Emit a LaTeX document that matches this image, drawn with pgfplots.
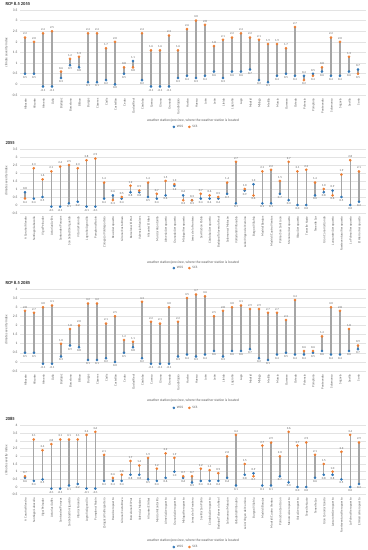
\documentclass[border=0pt]{standalone}
\usepackage{pgfplots}
\pgfplotsset{compat=1.18}
\usepackage{pgfplotstable}
\usepackage{fontspec}
\setmainfont{Carlito}
\definecolor{wblue}{HTML}{2E75B6}
\definecolor{sorange}{HTML}{ED7D31}
\definecolor{stem}{HTML}{A6A6A6}
\definecolor{labgray}{HTML}{595959}

\pgfplotstableread{
x w s
0 0.5 2.2
1 0.5 2.0
2 -0.1 2.4
3 -0.1 2.5
4 0.3 0.6
5 0.9 1.2
6 0.8 1.3
7 0.1 2.4
8 0.1 2.4
9 0.2 1.7
10 0.0 2.0
11 0.5 0.8
12 1.1 0.8
13 0.2 2.4
14 -0.1 1.6
15 -0.1 1.6
16 -0.1 2.3
17 0.3 1.6
18 0.4 2.6
19 0.3 3.0
20 0.4 2.8
21 0.6 1.8
22 0.3 2.1
23 0.6 2.2
24 0.6 2.4
25 0.7 2.2
26 0.2 2.1
27 0.1 1.9
28 0.4 1.9
29 0.5 1.7
30 0.4 2.7
31 0.4 0.2
32 0.5 0.4
33 0.6 0.8
34 0.4 2.2
35 0.4 2.0
36 0.6 1.3
37 0.7 0.5
}\tA

\pgfplotstableread{
x w s
0 0.8 0.4
1 0.4 2.3
2 0.5 1.6
3 -0.1 2.1
4 -0.1 2.4
5 0.1 2.5
6 0.2 2.3
7 -0.1 2.8
8 -0.1 2.9
9 0.4 1.4
10 0.6 0.3
11 0.4 0.5
12 0.8 1.2
13 0.8 0.9
14 0.5 1.4
15 0.4 0.7
16 0.6 1.5
17 1.2 1.3
18 0.6 0.3
19 0.3 0.3
20 0.4 0.7
21 0.4 0.6
22 0.4 0.5
23 0.7 1.4
24 0.1 2.7
25 0.9 1.0
26 1.3 0.6
27 0.1 2.1
28 0.1 2.2
29 0.7 1.5
30 0.3 2.7
31 0.0 2.1
32 0.0 2.2
33 0.6 1.4
34 0.8 1.0
35 0.9 0.6
36 0.5 1.9
37 0.0 2.8
38 0.2 2.1
}\tB

\pgfplotstableread{
x w s
0 0.5 2.8
1 0.5 2.7
2 -0.1 3.0
3 -0.1 3.1
4 0.3 1.0
5 0.9 1.8
6 0.8 2.0
7 0.1 3.2
8 0.1 3.2
9 0.2 2.1
10 0.0 2.5
11 0.5 1.2
12 0.8 1.1
13 0.2 3.3
14 -0.1 2.2
15 -0.1 2.1
16 -0.1 3.0
17 0.3 2.2
18 0.4 3.5
19 0.3 3.7
20 0.4 3.6
21 0.6 2.5
22 0.3 2.8
23 0.6 3.0
24 0.6 3.1
25 0.7 2.9
26 0.2 2.9
27 0.1 2.7
28 0.4 2.7
29 0.5 2.3
30 0.4 3.4
31 0.4 0.6
32 0.5 0.6
33 0.6 1.4
34 0.4 3.0
35 0.4 2.8
36 0.6 1.8
37 0.7 0.9
}\tC

\pgfplotstableread{
x w s
0 0.6 0.7
1 0.4 3.1
2 0.5 2.4
3 -0.1 2.8
4 -0.1 3.1
5 0.1 3.1
6 0.2 3.1
7 -0.1 3.4
8 -0.1 3.6
9 0.4 2.1
10 0.4 0.6
11 0.4 0.8
12 0.8 1.7
13 0.8 1.4
14 0.5 1.9
15 0.4 1.2
16 0.6 2.2
17 1.0 1.9
18 0.6 0.7
19 0.3 0.7
20 0.4 1.2
21 0.4 1.1
22 0.4 0.9
23 0.6 2.0
24 0.1 3.4
25 0.8 1.5
26 0.9 0.7
27 0.1 2.7
28 0.1 2.9
29 0.7 2.0
30 0.3 3.6
31 0.0 2.7
32 0.0 2.9
33 0.6 2.1
34 0.8 1.5
35 0.8 1.0
36 0.5 2.3
37 0.0 3.4
38 0.2 2.9
}\tD

\pgfplotsset{
  /pgf/number format/assume math mode=true,
  csi/.style={
    scale only axis, width=346bp,
    ymin=-0.5, ytick distance=0.5,
    ymajorgrids, grid style={gray!22, line width=0.5bp},
    axis line style={draw=none}, tick style={draw=none},
    yticklabel style={font=\fontsize{3.6}{4}\selectfont, text=labgray, xshift=1bp},
    xticklabel style={rotate=90, anchor=east, font=\fontsize{3.2}{3.6}\selectfont, text=labgray, yshift=-0.5bp},
    ylabel={climate severity index},
    ylabel style={font=\fontsize{3.4}{4}\selectfont, text=labgray, yshift=-3bp},
    legend style={draw=none, fill=none, legend columns=2, font=\fontsize{3.4}{4}\selectfont, text=labgray,
      /tikz/every even column/.append style={column sep=3bp}, inner sep=0pt},
    legend cell align=left,
  },
  stemplot/.style={forget plot, draw=none, mark=none,
    error bars/.cd, y dir=plus, y explicit, error mark=none,
    error bar style={stem, line width=1.3bp}},
  lab/.style={nodes near coords,
    /pgf/number format/.cd, fixed, fixed zerofill, precision=1, /pgfplots/.cd,
    every node near coord/.append style={anchor=center, yshift=\myshift,
      font=\fontsize{3}{3.4}\selectfont, text=labgray, inner sep=0pt}},
}

\newcommand{\drawpanel}[1]{%
  \addplot[stemplot] table[x=x, y expr={min(\thisrow{w},\thisrow{s})}, y error expr={abs(\thisrow{s}-\thisrow{w})}] {#1};
  \addplot[only marks, mark=*, mark size=1.1bp, color=wblue, lab,
    visualization depends on={ifthenelse(\thisrow{w}>\thisrow{s},3.6,-3.6) \as \myshift}]
    table[x=x, y=w] {#1};
  \addlegendentry{WCS}
  \addplot[only marks, mark=*, mark size=1.1bp, color=sorange, lab,
    visualization depends on={ifthenelse(\thisrow{s}>=\thisrow{w},3.6,-3.6) \as \myshift}]
    table[x=x, y=s] {#1};
  \addlegendentry{SCS}
}

\def\namesA{Albacete,Alicante,Almería,Ávila,Badajoz,Barcelona,Bilbao,Burgos,Cáceres,Cádiz,Castellón,Ceuta,Ciudad Real,Córdoba,Cuenca,Girona,Granada,Guadalajara,Huelva,Huesca,Jaén,León,Lleida,Logroño,Lugo,Madrid,Málaga,Melilla,Murcia,Ourense,Oviedo,Palencia,Pamplona,Pontevedra,Salamanca,Segovia,Sevilla,Soria}
\def\namesB{A Coruña/Alvedro,Santiago/Labacolla,Vigo/Peinador,Asturias/Avilés,Santander/Parayas,San Sebastián/Igueldo,Vitoria/Foronda,Logroño/Agoncillo,Pamplona/Noáin,Zaragoza/Valdespartera,Reus/Aeropuerto,Girona/Costa Brava,Barcelona/El Prat,Valencia/Manises,Alicante/El Altet,Murcia/Alcantarilla,Almería/Aeropuerto,Granada/Aeropuerto,Málaga/Aeropuerto,Jerez de la Frontera,Sevilla/San Pablo,Córdoba/Aeropuerto,Badajoz/Talavera la Real,Salamanca/Matacán,Valladolid/Villanubla,León/Virgen del Camino,Burgos/Villafría,Madrid/Barajas,Madrid/Cuatro Vientos,Palma/Son Sant Joan,Menorca/Aeropuerto,Ibiza/Aeropuerto,Tenerife Norte,Tenerife Sur,Gran Canaria/Gando,Lanzarote/Aeropuerto,Fuerteventura/Aeropuerto,La Palma/Aeropuerto,El Hierro/Aeropuerto}

\begin{document}
\begin{tikzpicture}
\useasboundingbox (0,0) rectangle (368bp,550bp);

% Panel 1
\begin{axis}[csi, at={(20bp,455bp)}, anchor=south west, height=85bp, ymax=3.5,
  xmin=-0.556, xmax=37.89, xtick={0,...,37}, xticklabels/.expanded=\namesA,
  legend style={at={(0.48,-0.376)}, anchor=center}]
\drawpanel{\tA}
\end{axis}
\node[anchor=west, font=\fontsize{4.6}{5}\selectfont\bfseries, text=black!85] at (2bp,546bp) {RCP 8.5 2055};
\node[font=\fontsize{3.6}{4}\selectfont, text=labgray] at (193bp,429bp) {weather station/province, where the weather station is located};

% Panel 2
\begin{axis}[csi, at={(20bp,337bp)}, anchor=south west, height=64bp, ymax=3.5,
  xmin=-0.569, xmax=38.8, xtick={0,...,38}, xticklabels/.expanded=\namesB,
  legend style={at={(0.48,-0.86)}, anchor=center}]
\drawpanel{\tB}
\end{axis}
\node[anchor=west, font=\fontsize{4.6}{5}\selectfont\bfseries, text=black!85] at (2bp,407bp) {2055};
\node[font=\fontsize{3.6}{4}\selectfont, text=labgray] at (193bp,287.5bp) {weather station/province, where the weather station is located};

% Panel 3
\begin{axis}[csi, at={(20bp,179bp)}, anchor=south west, height=82bp, ymax=4,
  xmin=-0.556, xmax=37.89, xtick={0,...,37}, xticklabels/.expanded=\namesA,
  legend style={at={(0.48,-0.45)}, anchor=center}]
\drawpanel{\tC}
\end{axis}
\node[anchor=west, font=\fontsize{4.6}{5}\selectfont\bfseries, text=black!85] at (2bp,267bp) {RCP 8.5 2085};
\node[font=\fontsize{3.6}{4}\selectfont, text=labgray] at (193bp,149bp) {weather station/province, where the weather station is located};

% Panel 4
\begin{axis}[csi, at={(20bp,55.3bp)}, anchor=south west, height=69bp, ymax=4,
  xmin=-0.569, xmax=38.8, xtick={0,...,38}, xticklabels/.expanded=\namesB,
  legend style={at={(0.48,-0.758)}, anchor=center}]
\drawpanel{\tD}
\end{axis}
\node[anchor=west, font=\fontsize{4.6}{5}\selectfont\bfseries, text=black!85] at (2bp,131bp) {2085};
\node[font=\fontsize{3.6}{4}\selectfont, text=labgray] at (193bp,9bp) {weather station/province, where the weather station is located};
\end{tikzpicture}
\end{document}
